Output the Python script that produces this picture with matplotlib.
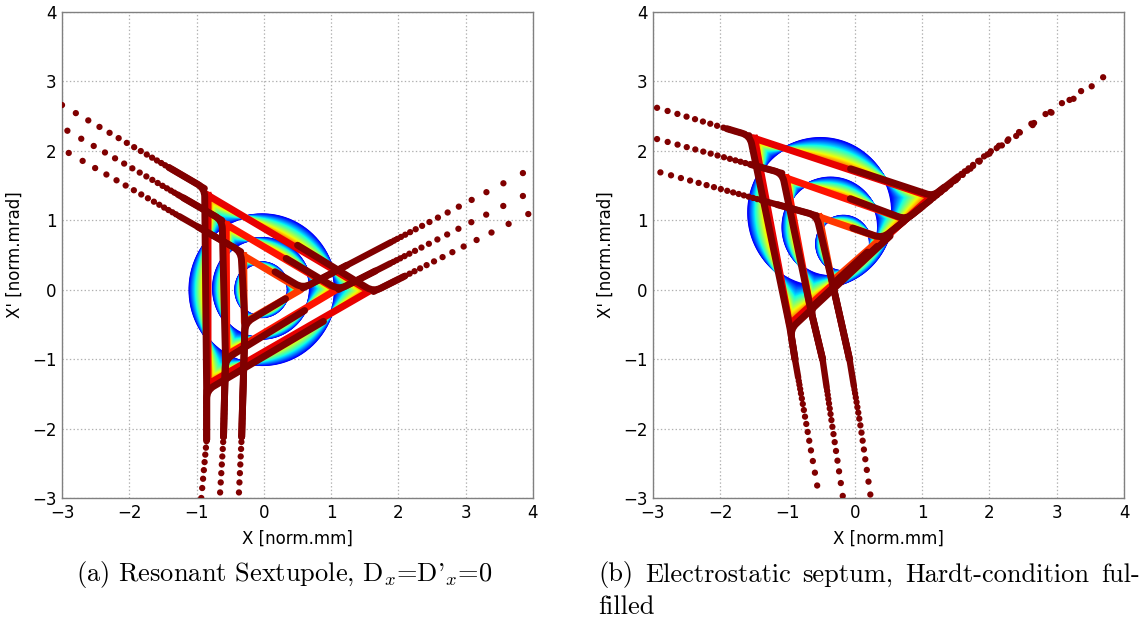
import numpy as np
import matplotlib
matplotlib.use("Agg")
import matplotlib.pyplot as plt
from matplotlib.path import Path
from matplotlib.patches import PathPatch

# ------------------------------------------------------------------ data
# Panel (a): resonant sextupole, three amplitudes (outer, middle, inner)
A_CIRCLE_CENTERS = [(-0.02, 0.00), (-0.03, 0.02), (-0.03, 0.00)]
A_CIRCLE_RADII = [1.08, 0.72, 0.39]
A_TRIANGLES = [
    [(-0.83, 1.36), (-0.83, -1.36), (1.57, -0.02)],
    [(-0.56, 0.94), (-0.55, -0.94), (1.08, 0.00)],
    [(-0.30, 0.49), (-0.29, -0.47), (0.55, 0.00)],
]
A_SEP_TL = [(-0.88, 1.46), (-0.62, 1.00), (-0.34, 0.55)]
A_SEP_BL = [(-0.85, -1.45), (-0.57, -1.00), (-0.28, -0.48)]
A_SEP_R = [(1.63, -0.03), (1.11, 0.00), (0.58, 0.02)]
A_UL_END = [(-3.00, 2.66), (-2.92, 2.29), (-2.90, 1.97)]
A_BOTTOM_ARMS = [
    [(-0.85, -2.16), (-0.93, -3.00)],
    [(-0.60, -2.12), (-0.65, -2.92)],
    [(-0.33, -2.12), (-0.37, -2.92)],
]
A_RIGHT_ARMS = [
    [(3.93, 1.09)],
    [(3.85, 1.35)],
    [(3.85, 1.68)],
]

# Panel (b): electrostatic septum, Hardt condition fulfilled
B_CIRCLE_CENTERS = [(-0.51, 1.11), (-0.36, 0.90), (-0.17, 0.66)]
B_CIRCLE_RADII = [1.07, 0.71, 0.40]
B_TRIANGLES = [
    [(-1.49, 2.18), (-0.97, -0.50), (1.13, 1.34)],
    [(-1.02, 1.61), (-0.67, -0.22), (0.75, 1.01)],
    [(-0.53, 1.05), (-0.34, 0.12), (0.39, 0.74)],
]
B_SEP_TL = [(-1.56, 2.22), (-1.08, 1.68), (-0.57, 1.07)]
B_SEP_BL = [(-0.96, -0.57), (-0.66, -0.27), (-0.33, 0.08)]
B_SEP_R = [(1.16, 1.35), (0.76, 1.01), (0.41, 0.74)]
B_UL_END = [(-2.94, 2.62), (-2.94, 2.17), (-2.89, 1.69)]
B_BOTTOM_ARMS = [
    [(-0.89, -1.00), (-0.71, -2.00), (-0.56, -2.82)],
    [(-0.48, -1.00), (-0.33, -2.00), (-0.18, -2.97)],
    [(-0.08, -1.00), (0.09, -2.00), (0.23, -2.95)],
]
B_RIGHT_ARMS = [
    [(2.00, 1.98), (3.00, 2.64), (3.69, 3.06)],
    [(2.00, 1.97), (3.00, 2.62), (3.52, 2.93)],
    [(2.00, 1.96), (3.00, 2.60), (3.25, 2.75)],
]

TICKS = [-3, -2, -1, 0, 1, 2, 3, 4]
XLABEL = "X [norm.mm]"
YLABEL = "X' [norm.mrad]"
CAPTION_A = r"(a) Resonant Sextupole, D$_x$=D'$_x$=0"
CAPTION_B1 = "(b) Electrostatic septum, Hardt-condition ful-"
CAPTION_B2 = "filled"

# dotted-arm spacing styles (first gap in px, shrink ratio) per panel/arm group
A_STYLE = {"ul": (16, 0.90), "bottom": (10, 0.93), "right": (22, 0.87)}
B_STYLE = {"ul": (11, 0.93), "bottom": (13, 0.91), "right": (26, 0.87)}

# ------------------------------------------------------------------ style
plt.rcParams["lines.scale_dashes"] = False
plt.rcParams["mathtext.fontset"] = "cm"
MAROON = plt.cm.jet(1.0)
TRI_COLORS = [plt.cm.jet(0.91), plt.cm.jet(0.89), plt.cm.jet(0.85)]
PX2PT = 72.0 / 100.0


def tri_boundary(g, verts, theta):
    verts = np.asarray(verts, float)
    out = np.zeros((len(theta), 2))
    for j, th in enumerate(theta):
        d = np.array([np.cos(th), np.sin(th)])
        for i in range(3):
            a = verts[i]
            b = verts[(i + 1) % 3]
            e = b - a
            M = np.array([[d[0], -e[0]], [d[1], -e[1]]])
            if abs(np.linalg.det(M)) < 1e-12:
                continue
            s, u = np.linalg.solve(M, a - g)
            if s > 0 and -1e-9 <= u <= 1 + 1e-9:
                out[j] = g + s * d
                break
    return out


def rounded_path(points, r):
    pts = np.asarray(points, float)
    verts = [pts[0]]
    codes = [Path.MOVETO]
    for i in range(1, len(pts) - 1):
        p0, p1, p2 = pts[i - 1], pts[i], pts[i + 1]
        d1 = p0 - p1
        d2 = p2 - p1
        l1 = np.hypot(*d1)
        l2 = np.hypot(*d2)
        rr = min(r, 0.45 * l1, 0.45 * l2)
        verts += [p1 + d1 / l1 * rr, p1, p1 + d2 / l2 * rr]
        codes += [Path.LINETO, Path.CURVE3, Path.CURVE3]
    verts.append(pts[-1])
    codes.append(Path.LINETO)
    return Path(verts, codes)


def dot_pattern(g0, q):
    # Agg supports at most 16 on/off pairs: 15 dots + one long solid dash
    seq = []
    g = g0
    for _ in range(15):
        seq += [0.01, g * PX2PT]
        g *= q
    seq += [5000.0, 0.01]
    return (0, seq)


def along(p, q, f):
    p = np.asarray(p, float)
    q = np.asarray(q, float)
    return tuple(p + f * (q - p))


def draw_panel(ax, centers, radii, tris, sep_tl, sep_bl, sep_r, ul_end,
               bottom_arms, right_arms, style):
    theta = np.linspace(0, 2 * np.pi, 400)
    # colored bands: circle (blue) morphing into triangle (red)
    for k in range(3):
        c = np.asarray(centers[k])
        circ = c + radii[k] * np.column_stack([np.cos(theta), np.sin(theta)])
        g = np.mean(np.asarray(tris[k]), axis=0)
        tri = tri_boundary(g, tris[k], theta)
        for t in np.linspace(0, 1, 60):
            pts = (1 - t) * circ + t * tri
            ax.plot(pts[:, 0], pts[:, 1], color=plt.cm.jet(0.1 + 0.74 * t),
                    lw=2.0, zorder=2, solid_capstyle="round")
    for k in range(3):
        v = np.asarray(tris[k] + [tris[k][0]])
        ax.plot(v[:, 0], v[:, 1], color=TRI_COLORS[k], lw=5.0, zorder=3,
                solid_joinstyle="round")
    # separatrix paths
    for k in range(3):
        tl, bl, r = sep_tl[k], sep_bl[k], sep_r[k]
        b_first = bottom_arms[k][0]
        r_first = right_arms[k][0]
        paths = [
            [along(tl, ul_end[k], 0.25), tl, bl, b_first],
            [along(tl, r, 0.55), r, along(r, r_first, 0.2)],
            [along(r, bl, 0.3), bl, b_first],
        ]
        for p in paths:
            ax.add_patch(PathPatch(rounded_path(p, 0.12), fill=False,
                                   ec=MAROON, lw=5.0, zorder=4,
                                   capstyle="round", joinstyle="round"))
        arms = [
            ([ul_end[k], tl], style["ul"]),
            (list(reversed(bottom_arms[k])) + [bl], style["bottom"]),
            (list(reversed(right_arms[k])) + [r], style["right"]),
        ]
        for pts, (g0, q) in arms:
            pts = np.asarray(pts, float)
            ax.plot(pts[:, 0], pts[:, 1], color=MAROON, lw=4.6,
                    linestyle=dot_pattern(g0, q), dash_capstyle="round",
                    solid_capstyle="round", solid_joinstyle="round", zorder=4)

    ax.set_xlim(-3, 4)
    ax.set_ylim(-3, 4)
    ax.set_xticks(TICKS)
    ax.set_yticks(TICKS)
    ax.grid(True, color="#b0b0b0", linestyle=":", linewidth=0.9, zorder=0)
    ax.set_axisbelow(True)
    ax.tick_params(length=0, pad=4, labelsize=12)
    for s in ax.spines.values():
        s.set_color("#808080")
        s.set_linewidth(1.0)
    ax.set_xlabel(XLABEL, fontsize=12, labelpad=6)
    ax.set_ylabel(YLABEL, fontsize=12, labelpad=6)


fig = plt.figure(figsize=(11.44, 6.25), dpi=100)
W, H = 1144.0, 625.0
axA = fig.add_axes([62 / W, (H - 498) / H, 471 / W, 486 / H])
axB = fig.add_axes([653 / W, (H - 498) / H, 471 / W, 486 / H])

draw_panel(axA, A_CIRCLE_CENTERS, A_CIRCLE_RADII, A_TRIANGLES, A_SEP_TL,
           A_SEP_BL, A_SEP_R, A_UL_END, A_BOTTOM_ARMS, A_RIGHT_ARMS, A_STYLE)
draw_panel(axB, B_CIRCLE_CENTERS, B_CIRCLE_RADII, B_TRIANGLES, B_SEP_TL,
           B_SEP_BL, B_SEP_R, B_UL_END, B_BOTTOM_ARMS, B_RIGHT_ARMS, B_STYLE)

cap_kw = dict(fontsize=19, family="cmr10", va="center")
fig.text(76 / W, 1 - 575 / H, CAPTION_A, ha="left", **cap_kw)

# justified first line of caption (b), spanning 598..1140 px
renderer = fig.canvas.get_renderer()
words = CAPTION_B1.split(" ")
word_texts = [fig.text(0, 1 - 575 / H, w, ha="left", **cap_kw) for w in words]
widths = [t.get_window_extent(renderer).width for t in word_texts]
x0, x1 = 598.0, 1140.0
gap = (x1 - x0 - sum(widths)) / (len(words) - 1)
x = x0
for t, w in zip(word_texts, widths):
    t.set_x(x / W)
    x += w + gap
fig.text(598 / W, 1 - 607 / H, CAPTION_B2, ha="left", **cap_kw)

fig.savefig("out.png", dpi=100)
